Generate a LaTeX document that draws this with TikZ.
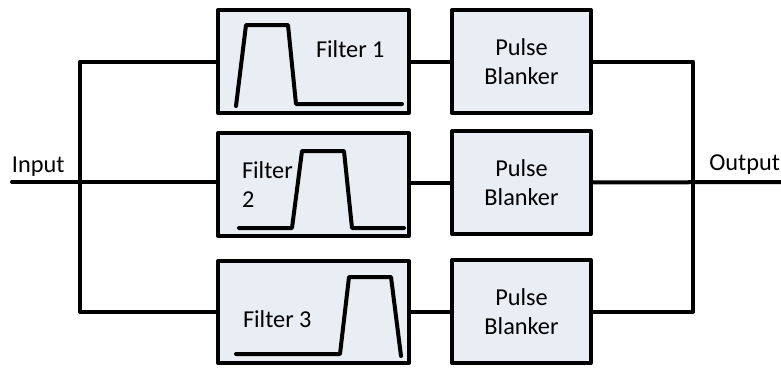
\documentclass[tikz,border=0pt]{standalone}
\usepackage{fontspec}
\setmainfont{Carlito}
\definecolor{boxfill}{RGB}{233,237,244}
\begin{document}
\begin{tikzpicture}[x=1pt,y=-1pt,
  every node/.style={font=\fontsize{24.3}{29}\selectfont, inner sep=0pt, outer sep=0pt},
  blockbox/.style={draw=black, fill=boxfill, line width=4pt, line join=round, rectangle},
  wire/.style={draw=black, line width=4pt, line cap=round, line join=round},
  curve/.style={draw=black, line width=4pt, line cap=round, line join=round}]
\useasboundingbox (0,0) rectangle (781,367);
% filter boxes
\node[blockbox, minimum width=191pt, minimum height=103pt] (f1) at (313.5,61.5) {};
\node[blockbox, minimum width=191pt, minimum height=103pt] (f2) at (313.5,184.5) {};
\node[blockbox, minimum width=191pt, minimum height=102pt] (f3) at (313.5,312) {};
% pulse blankers
\node[blockbox, minimum width=139pt, minimum height=103pt, align=center] (p1) at (521.5,61.5) {Pulse\\Blanker};
\node[blockbox, minimum width=139pt, minimum height=103pt, align=center] (p2) at (521.5,182.5) {Pulse\\Blanker};
\node[blockbox, minimum width=139pt, minimum height=103pt, align=center] (p3) at (521.5,311.5) {Pulse\\Blanker};
% filter responses
\draw[curve] (236,106) -- (246,25) -- (288,25) -- (296,104) -- (402,104);
\draw[curve] (239,228) -- (292,228) -- (302,151) -- (344,151) -- (352,228) -- (404,228);
\draw[curve] (236,354) -- (340,354) -- (349,277) -- (391,277) -- (401,356);
% filter labels
\node[anchor=base west] (t1) at (316,57) {Filter 1};
\node[anchor=west, align=left] (t2) at (242,185) {Filter\\2};
\node[anchor=base west] (t3) at (243,327) {Filter 3};
% input/output
\node[anchor=base west] (in) at (12,172) {Input};
\node[anchor=base east] (out) at (780,170) {Output};
\coordinate (inL) at (12,182);
\coordinate (outR) at (783,182);
\coordinate (busL) at (80,0);
\coordinate (busR) at (693,0);
% wires
\draw[wire] (inL) -- (f2.west |- inL);
\draw[wire] (f1.west) -- (f1.west -| busL) -- (f3.west -| busL) -- (f3.west);
\draw[wire] (f1.east |- p1.west) -- (p1.west);
\draw[wire] (f2.east |- p2.west) -- (p2.west);
\draw[wire] (f3.east |- p3.west) -- (p3.west);
\draw[wire] (p1.east) -- (p1.east -| busR) -- (p3.east -| busR) -- (p3.east);
\draw[wire] (p2.east) -- (outR);
\end{tikzpicture}
\end{document}
